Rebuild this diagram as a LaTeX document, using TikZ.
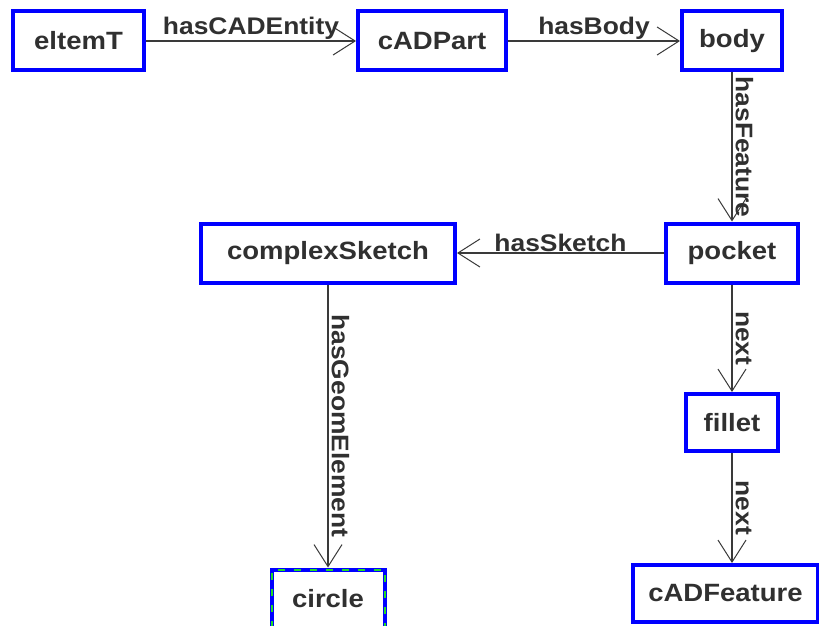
\documentclass[tikz,border=0pt]{standalone}
\usepackage{fontspec}
\setmainfont{Liberation Sans}[FakeStretch=1.1]
\usetikzlibrary{arrows.meta}
\definecolor{txt}{HTML}{303030}
\definecolor{edge}{HTML}{3A3A3A}
\definecolor{boxblue}{HTML}{0000FF}
\definecolor{dashgreen}{HTML}{22DD22}
\begin{document}
\begin{tikzpicture}[x=1pt,y=-1pt,
  cls/.style={draw=boxblue,line width=4pt,fill=white,text=txt,inner sep=0pt,
    font=\fontsize{25}{30}\selectfont\bfseries,minimum height=59pt},
  rel/.style={draw=edge,line width=1.3pt,-{Straight Barb[length=22pt,width=28pt,line width=1pt]}},
  lab/.style={text=txt,font=\fontsize{24}{28}\selectfont\bfseries,inner sep=1pt},
  vlab/.style={text=txt,font=\fontsize{24}{28}\selectfont\bfseries,inner sep=3pt,rotate=-90,anchor=south}]
\useasboundingbox (0,0) rectangle (819,626);
\fill[white] (0,0) rectangle (819,626);
\clip (0,0) rectangle (819,626);
\node[cls,minimum width=131pt] (elt) at (78.5,41) {eltemT};
\node[cls,minimum width=148pt] (cad) at (432,41) {cADPart};
\node[cls,minimum width=100pt] (body) at (732,41) {body};
\node[cls,minimum width=132pt] (pocket) at (732,253) {pocket};
\node[cls,minimum width=254pt] (cs) at (328,253) {complexSketch};
\node[cls,minimum width=92pt,minimum height=57pt] (fillet) at (732,422.5) {fillet};
\node[cls,minimum width=185pt,minimum height=57pt] (cf) at (725.5,593.5) {cADFeature};
\node[cls,minimum width=113pt,
  postaction={draw=dashgreen,line width=2pt,dash pattern=on 7pt off 9pt}] (circ) at (328,599) {circle};
\draw[rel] (elt) -- node[lab,above] {hasCADEntity} (cad);
\draw[rel] (cad) -- node[lab,above] {hasBody} (body);
\draw[rel] (body) -- node[vlab] {hasFeature} (pocket);
\draw[rel] (pocket) -- node[lab,above] {hasSketch} (cs);
\draw[rel] (pocket) -- node[vlab] {next} (fillet);
\draw[rel] (fillet.south) -- node[vlab] {next} (fillet.south |- cf.north);
\draw[rel] (cs) -- node[vlab] {hasGeomElement} (circ);
\end{tikzpicture}
\end{document}
